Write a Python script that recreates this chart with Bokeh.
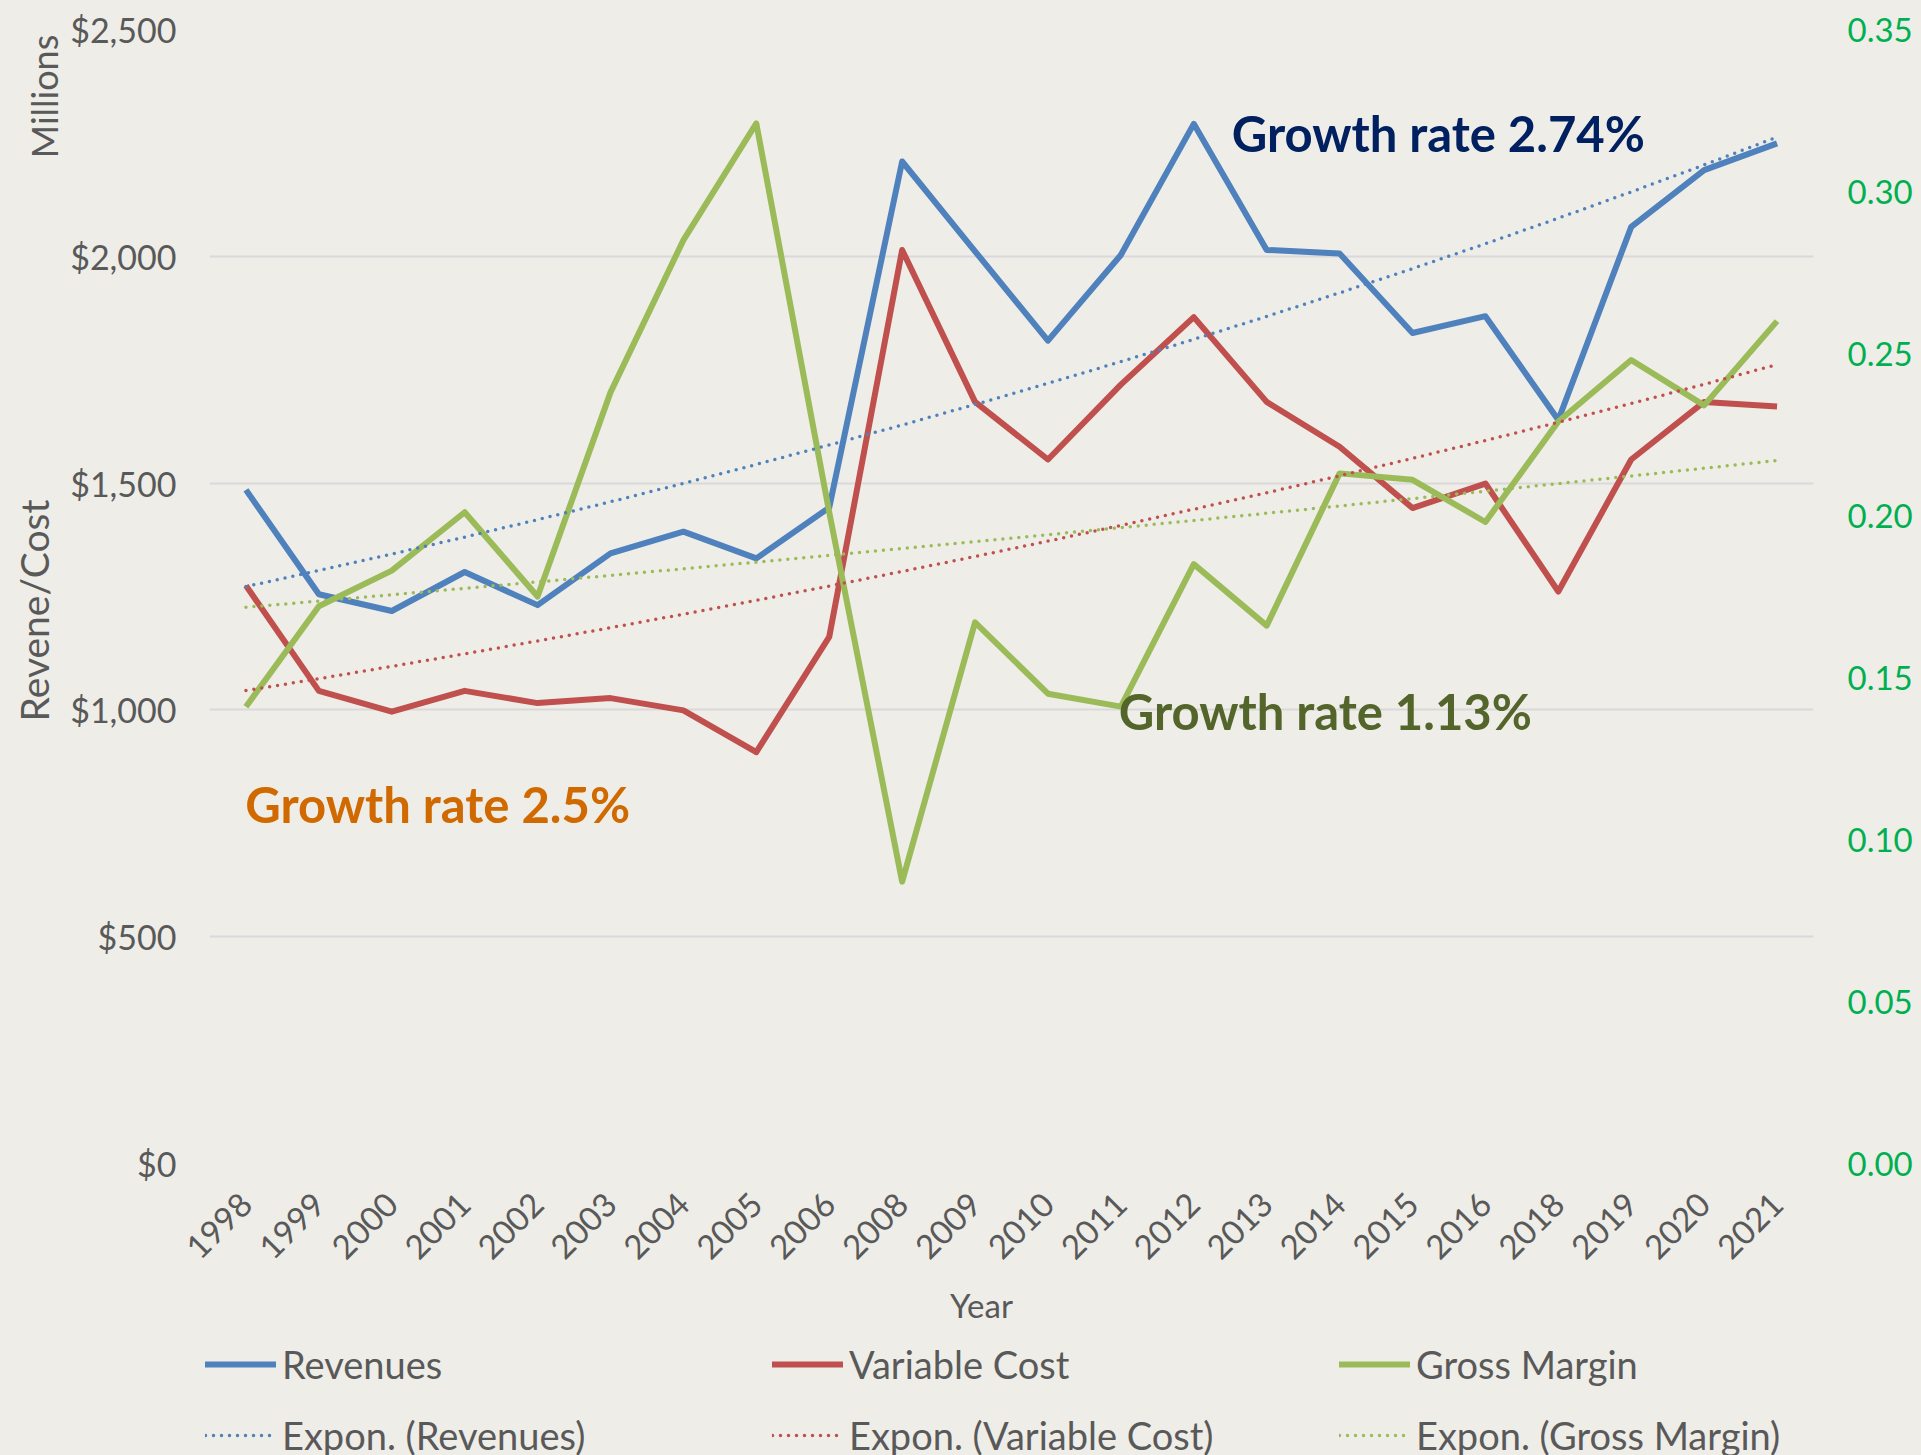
import math
import numpy as np
from bokeh.plotting import figure
from bokeh.layouts import column, row
from bokeh.models import (Range1d, LinearAxis, FixedTicker, NumeralTickFormatter,
                          Legend, LegendItem, Label, FactorRange)
from bokeh.embed import file_html
from bokeh.resources import INLINE

# ---------------- data ----------------
years = ["1998", "1999", "2000", "2001", "2002", "2003", "2004", "2005", "2006", "2008", "2009",
         "2010", "2011", "2012", "2013", "2014", "2015", "2016", "2018", "2019", "2020", "2021"]
revenues = [1485, 1255, 1218, 1304, 1231, 1345, 1393, 1334, 1446, 2209, 2011,
            1814, 2003, 2292, 2014, 2006, 1831, 1868, 1639, 2065, 2190, 2249]
variable_cost = [1274, 1042, 996, 1042, 1015, 1026, 999, 907, 1161, 2014, 1679,
                 1552, 1717, 1866, 1679, 1580, 1445, 1499, 1261, 1552, 1679, 1669]
gross_margin = [0.141, 0.172, 0.183, 0.201, 0.175, 0.238, 0.285, 0.321, 0.201, 0.087, 0.167,
                0.145, 0.141, 0.185, 0.166, 0.213, 0.211, 0.198, 0.229, 0.248, 0.234, 0.260]
left_ticks = [0, 500, 1000, 1500, 2000, 2500]
right_ticks = [0.0, 0.05, 0.10, 0.15, 0.20, 0.25, 0.30, 0.35]
growth_labels = ["Growth rate 2.74%", "Growth rate 1.13%", "Growth rate 2.5%"]
series_names = ["Revenues", "Variable Cost", "Gross Margin"]


def expon_trend(vals):
    x = np.arange(1, len(vals) + 1)
    b, a = np.polyfit(x, np.log(np.array(vals, dtype=float)), 1)
    return list(np.exp(a + b * x))


rev_trend = expon_trend(revenues)
vc_trend = expon_trend(variable_cost)
gm_trend = expon_trend(gross_margin)

BG = "#EEEDE8"
TXT = "#595959"
FONT = "Lato"
BLUE, RED, GREEN = "#4F81BD", "#C0504D", "#9BBB59"
COLORS = [BLUE, RED, GREEN]
LW, TW, DOT = 6, 3.5, "0 8"

W, H = 1921, 1455
LEFT_W = 66
MAIN_H = 1282
TOP, BOTTOM = 29, 1163


def plain(fig):
    fig.background_fill_color = None
    fig.border_fill_color = None
    fig.outline_line_color = None
    fig.grid.visible = False
    return fig


def quiet_axis(ax):
    ax.axis_line_color = None
    ax.major_tick_line_color = None
    ax.minor_tick_line_color = None
    ax.major_tick_out = 0
    ax.major_tick_in = 0
    ax.minor_tick_out = 0
    ax.minor_tick_in = 0


# ---------------- main chart ----------------
p = figure(x_range=FactorRange(*years), y_range=Range1d(0, 2500),
           width=W - LEFT_W, height=MAIN_H, output_backend="svg", toolbar_location=None,
           min_border_left=209 - LEFT_W, min_border_right=108, min_border_top=TOP,
           min_border_bottom=MAIN_H - BOTTOM)
p.background_fill_color = None
p.border_fill_color = None
p.outline_line_color = None
p.extra_y_ranges = {"gm": Range1d(0, 0.35)}

ya = p.yaxis[0]
quiet_axis(ya)
ya.ticker = FixedTicker(ticks=left_ticks)
ya.formatter = NumeralTickFormatter(format="$0,0")
ya.major_label_text_font = FONT
ya.major_label_text_font_size = "34px"
ya.major_label_text_color = TXT
ya.major_label_standoff = 33

ra = LinearAxis(y_range_name="gm", ticker=FixedTicker(ticks=right_ticks),
                formatter=NumeralTickFormatter(format="0.00"))
quiet_axis(ra)
ra.major_label_text_font = FONT
ra.major_label_text_font_size = "33px"
ra.major_label_text_color = "#00B050"
ra.major_label_standoff = 34
p.add_layout(ra, "right")

xa = p.xaxis[0]
quiet_axis(xa)
xa.major_label_orientation = math.pi / 4
xa.major_label_text_font = FONT
xa.major_label_text_font_size = "33px"
xa.major_label_text_color = TXT
xa.major_label_standoff = 35

p.xgrid.grid_line_color = None
p.ygrid.grid_line_color = "#D9D9D9"
p.ygrid.grid_line_width = 2

p.line(years, revenues, line_color=BLUE, line_width=LW, line_join="round")
p.line(years, variable_cost, line_color=RED, line_width=LW, line_join="round")
p.line(years, gross_margin, line_color=GREEN, line_width=LW, line_join="round", y_range_name="gm")
p.line(years, rev_trend, line_color=BLUE, line_width=TW, line_dash=DOT, line_cap="round")
p.line(years, vc_trend, line_color=RED, line_width=TW, line_dash=DOT, line_cap="round")
p.line(years, gm_trend, line_color=GREEN, line_width=TW, line_dash=DOT, line_cap="round",
       y_range_name="gm")

ann = [(growth_labels[0], 14.02, 2272, "#002060"),
       (growth_labels[1], 12.47, 998, "#53652A"),
       (growth_labels[2], 0.49, 793, "#D06A00")]
for txt, x, y, c in ann:
    p.add_layout(Label(x=x, y=y, text=txt, text_font=FONT, text_font_size="49px",
                       text_font_style="bold", text_color=c, text_baseline="middle",
                       text_align="left"))

# ---------------- left strip with axis titles (page pixel coordinates) ----------------
lf = plain(figure(width=LEFT_W, height=MAIN_H, x_range=Range1d(0, LEFT_W),
                  y_range=Range1d(BOTTOM, TOP), output_backend="svg", toolbar_location=None,
                  min_border_left=0, min_border_right=0, min_border_top=TOP,
                  min_border_bottom=MAIN_H - BOTTOM,
                  x_axis_location=None, y_axis_location=None))
lf.add_layout(Label(x=43, y=96, text="Millions", angle=math.pi / 2, text_font=FONT,
                    text_font_size="36px", text_color=TXT, text_align="center",
                    text_baseline="middle"))
lf.add_layout(Label(x=33, y=610, text="Revene/Cost", angle=math.pi / 2, text_font=FONT,
                    text_font_size="39px", text_color=TXT, text_align="center",
                    text_baseline="middle"))

# ---------------- bottom strip: x-axis title and legend (page pixel coordinates) ----------------
LEG_H = H - MAIN_H
lg = plain(figure(width=W, height=LEG_H, x_range=Range1d(0, W), y_range=Range1d(H, MAIN_H),
                  output_backend="svg", toolbar_location=None, min_border=0,
                  x_axis_location=None, y_axis_location=None))
lg.add_layout(Label(x=981, y=1304, text="Year", text_font=FONT, text_font_size="33px",
                    text_color=TXT, text_align="center", text_baseline="middle"))
nan = float("nan")
col_x = [205, 772, 1339]
for name, color, cx in zip(series_names, COLORS, col_x):
    solid = lg.line([nan, nan], [nan, nan], line_color=color, line_width=LW, line_cap="round")
    dotted = lg.line([nan, nan], [nan, nan], line_color=color, line_width=TW, line_dash=DOT,
                     line_cap="round")
    leg = Legend(items=[LegendItem(label=name, renderers=[solid]),
                        LegendItem(label="Expon. (%s)" % name, renderers=[dotted])],
                 location=(cx, LEG_H - (1341 - MAIN_H) - 117), orientation="vertical")
    leg.background_fill_alpha = 0
    leg.border_line_alpha = 0
    leg.padding = 0
    leg.margin = 0
    leg.spacing = 25
    leg.glyph_width = 71
    leg.glyph_height = 46
    leg.label_height = 46
    leg.label_standoff = 6
    leg.label_text_font = FONT
    leg.label_text_font_size = "38px"
    leg.label_text_color = TXT
    lg.add_layout(leg, "center")

layout = column(row(lf, p), lg)
html = file_html(layout, INLINE)
style = "<style>html, body { background: %s !important; }</style>" % BG
html = html.replace("</head>", style + "</head>", 1)
open("out.html", "w").write(html)
